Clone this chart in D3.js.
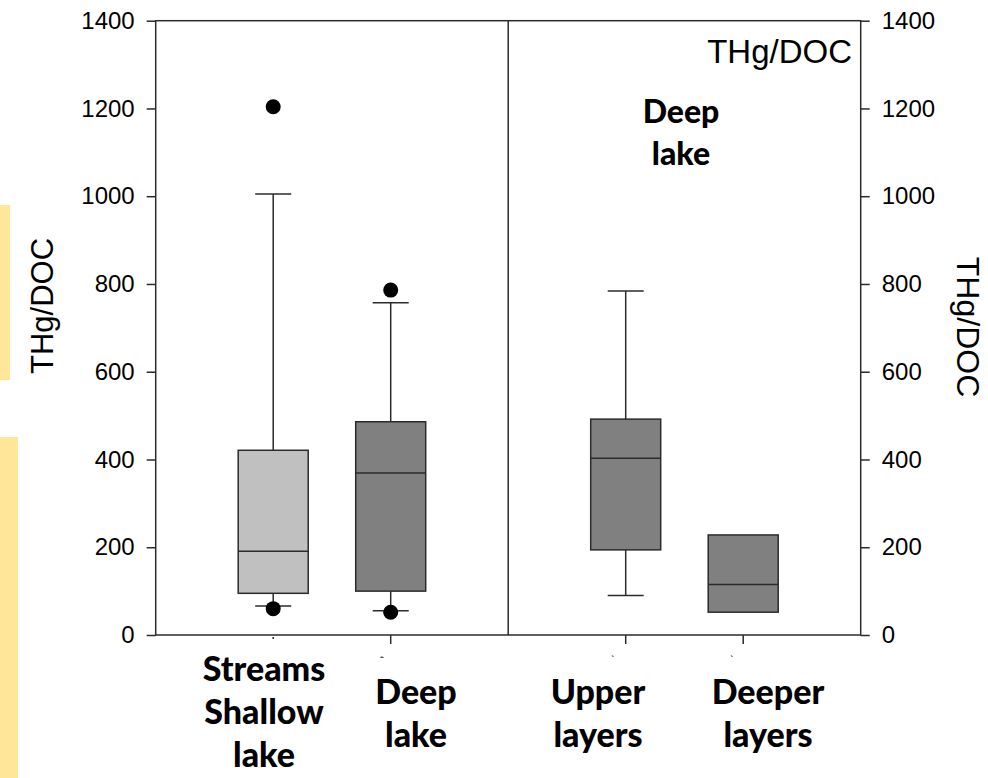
<!DOCTYPE html>
<html>
<head>
<meta charset="utf-8">
<script src="https://cdn.jsdelivr.net/npm/d3@7"></script>
<style>
	body { margin: 0; background: #fff; }
	svg { display: block; }
</style>
</head>
<body>
<div id="chart"></div>
<script>
// categories and their slot on the x axis (slot 3 is the divider)
const categories = [
	["Streams", "Shallow", "lake"],
	["Deep", "lake"],
	["Upper", "layers"],
	["Deeper", "layers"]
];
const slots = [1, 2, 4, 5];
const dividerSlot = 3;

// box statistics
const q1 = [95, 100, 194, 52];
const median = [191, 369, 403, 115];
const q3 = [421, 486, 492, 228];
const whiskerLow = [66, 55, 90, null];
const whiskerHigh = [1005, 757, 784, null];
const outliers = [[1204, 60], [786, 52], [], []];
const fills = ["#c0c0c0", "#808080", "#808080", "#808080"];

const yTicks = [0, 200, 400, 600, 800, 1000, 1200, 1400];

const width = 988,
	height = 778;
const plotLeft = 155.7,
	plotRight = 860.7,
	plotTop = 20.7,
	plotBottom = 635;

const svg = d3
	.select("#chart")
	.append("svg")
	.attr("width", width)
	.attr("height", height);

// pale yellow strips on the left edge
svg.append("rect").attr("x", 0).attr("y", 205).attr("width", 10).attr("height", 175).attr("fill", "#ffe699");
svg.append("rect").attr("x", 0).attr("y", 437).attr("width", 18).attr("height", 341).attr("fill", "#ffe699");

const x = d3.scaleLinear().domain([0, 6]).range([plotLeft, plotRight]);
const y = d3.scaleLinear().domain([0, 1400]).range([plotBottom, plotTop]);

const boxW = 70,
	capW = 36,
	ink = "#2b2b2b";

// axes
const yLeft = d3.axisLeft(y).tickValues(yTicks).tickFormat(d3.format("d")).tickSize(9).tickPadding(12);
const yRight = d3.axisRight(y).tickValues(yTicks).tickFormat(d3.format("d")).tickSize(9).tickPadding(12);

function styleAxis(g) {
	g.attr("font-family", null).attr("font-size", null);
	g.select(".domain").remove();
	g.selectAll(".tick line").attr("stroke", ink).attr("stroke-width", 1.5);
	g.selectAll(".tick text")
		.attr("fill", "#000")
		.style("font-family", "'Liberation Sans', Arial, sans-serif")
		.style("font-size", "24px");
}

svg.append("g").attr("transform", `translate(${plotLeft},0)`).call(yLeft).call(styleAxis);
svg.append("g").attr("transform", `translate(${plotRight},0)`).call(yRight).call(styleAxis);

// frame
svg.append("rect")
	.attr("x", plotLeft)
	.attr("y", plotTop)
	.attr("width", plotRight - plotLeft)
	.attr("height", plotBottom - plotTop)
	.attr("fill", "none")
	.attr("stroke", ink)
	.attr("stroke-width", 1.5);

svg.append("line")
	.attr("x1", x(dividerSlot))
	.attr("x2", x(dividerSlot))
	.attr("y1", plotTop)
	.attr("y2", plotBottom)
	.attr("stroke", ink)
	.attr("stroke-width", 1.5);

// category ticks on the bottom axis
svg.selectAll(".xtick")
	.data(slots)
	.enter()
	.append("line")
	.attr("class", "xtick")
	.attr("x1", (d) => x(d))
	.attr("x2", (d) => x(d))
	.attr("y1", (d, i) => (i === 0 ? plotBottom + 2 : plotBottom))
	.attr("y2", (d, i) => (i === 0 ? plotBottom + 4 : plotBottom + 9))
	.attr("stroke", ink)
	.attr("stroke-width", 1.5);

// boxes
const boxes = svg
	.selectAll(".box")
	.data(categories.map((c, i) => i))
	.enter()
	.append("g")
	.attr("class", "box");

boxes
	.filter((i) => whiskerHigh[i] != null)
	.each(function (i) {
		const g = d3.select(this);
		const cx = x(slots[i]);
		g.append("line")
			.attr("x1", cx).attr("x2", cx)
			.attr("y1", y(q3[i])).attr("y2", y(whiskerHigh[i]))
			.attr("stroke", ink).attr("stroke-width", 1.5);
		g.append("line")
			.attr("x1", cx).attr("x2", cx)
			.attr("y1", y(q1[i])).attr("y2", y(whiskerLow[i]))
			.attr("stroke", ink).attr("stroke-width", 1.5);
		[whiskerHigh[i], whiskerLow[i]].forEach((v) => {
			g.append("line")
				.attr("x1", cx - capW / 2).attr("x2", cx + capW / 2)
				.attr("y1", y(v)).attr("y2", y(v))
				.attr("stroke", ink).attr("stroke-width", 1.5);
		});
	});

boxes
	.append("rect")
	.attr("x", (i) => x(slots[i]) - boxW / 2)
	.attr("y", (i) => y(q3[i]))
	.attr("width", boxW)
	.attr("height", (i) => y(q1[i]) - y(q3[i]))
	.attr("fill", (i) => fills[i])
	.attr("stroke", ink)
	.attr("stroke-width", 1.5);

boxes
	.append("line")
	.attr("x1", (i) => x(slots[i]) - boxW / 2)
	.attr("x2", (i) => x(slots[i]) + boxW / 2)
	.attr("y1", (i) => y(median[i]))
	.attr("y2", (i) => y(median[i]))
	.attr("stroke", ink)
	.attr("stroke-width", 1.5);

boxes
	.selectAll(".outlier")
	.data((i) => outliers[i].map((v) => ({ v, s: slots[i] })))
	.enter()
	.append("circle")
	.attr("class", "outlier")
	.attr("cx", (d) => x(d.s))
	.attr("cy", (d) => y(d.v))
	.attr("r", 7.5)
	.attr("fill", "#000");

// category labels
const labelFont = "Lato, 'Noto Sans', sans-serif";
const labelTop = [681, 704, 704, 704];
const labelX = [264, 416, 598, 768];

categories.forEach((lines, i) => {
	const t = svg
		.append("text")
		.attr("text-anchor", "middle")
		.style("font-family", labelFont)
		.style("font-weight", "900")
		.style("font-size", "34px")
		.attr("fill", "#000");
	lines.forEach((s, k) => {
		t.append("tspan")
			.attr("x", labelX[i])
			.attr("y", labelTop[i] + k * 43)
			.text(s);
	});
});

// small leftover marks under the ticks
svg.append("text").attr("x", 382).attr("y", 665).attr("text-anchor", "middle")
	.style("font-family", labelFont).style("font-size", "12px").text("ˆ");
[613, 732].forEach((px) => {
	svg.append("text").attr("x", px).attr("y", 664).attr("text-anchor", "middle")
		.style("font-family", labelFont).style("font-size", "11px").text("`");
});

// in-plot labels
svg.append("text")
	.attr("x", 852)
	.attr("y", 63)
	.attr("text-anchor", "end")
	.style("font-family", "'Liberation Sans', Arial, sans-serif")
	.style("font-size", "33px")
	.text("THg/DOC");

const deep = svg
	.append("text")
	.attr("text-anchor", "middle")
	.style("font-family", labelFont)
	.style("font-weight", "900")
	.style("font-size", "32px");
["Deep", "lake"].forEach((s, k) => {
	deep.append("tspan").attr("x", 681).attr("y", 123 + k * 42).text(s);
});

// axis titles
svg.append("text")
	.attr("transform", "translate(53,306) rotate(-90)")
	.attr("text-anchor", "middle")
	.style("font-family", "'Liberation Sans', Arial, sans-serif")
	.style("font-size", "31px")
	.text("THg/DOC");

svg.append("text")
	.attr("transform", "translate(957,327) rotate(90)")
	.attr("text-anchor", "middle")
	.style("font-family", "'Liberation Sans', Arial, sans-serif")
	.style("font-size", "32px")
	.text("THg/DOC");
</script>
</body>
</html>
